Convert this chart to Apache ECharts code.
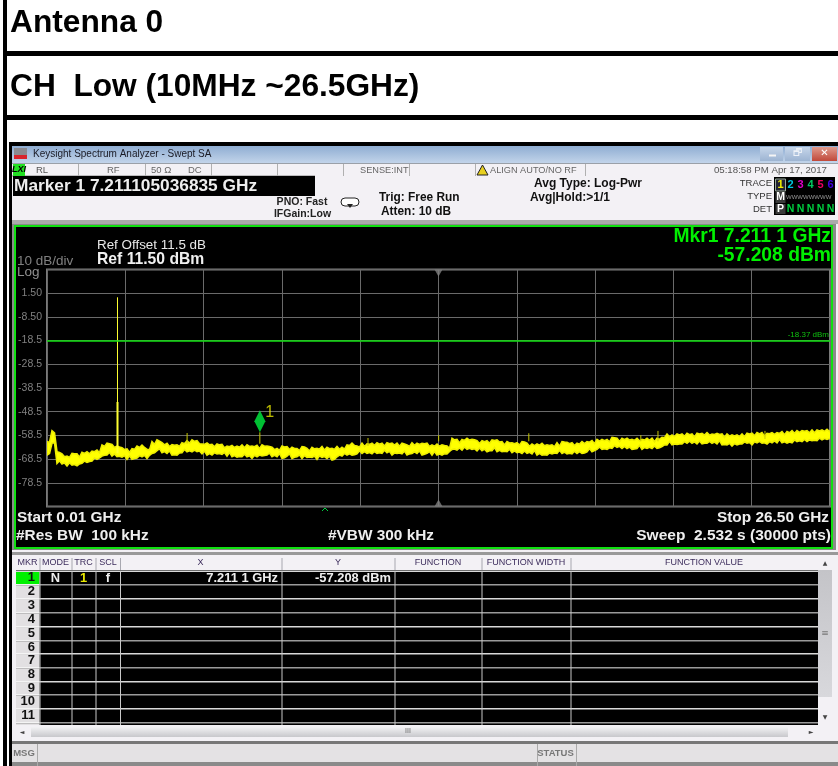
<!DOCTYPE html>
<html>
<head>
<meta charset="utf-8">
<title>Antenna 0 CH Low</title>
<script src="https://cdn.jsdelivr.net/npm/echarts@6/dist/echarts.min.js"></script>
<style>
  html, body { margin: 0; padding: 0; background: #fff; }
  #chart { width: 838px; height: 766px; }
</style>
</head>
<body>
<div id="chart"></div>
<script>
// sweep grid of the trace, one top/bottom pair per sample
const startGHz = 0.01
const stopGHz = 26.5
const sampleStep = 0.16916

// upper edge of the noise band, dBm
const traceTop = [
  -61.1,-56.5,-65.4,-66.3,-67.2,-66.1,-66.3,-65.6,-65.4,-65.1,-64.7,-62.5,-61.8,-62.3,-63.0,-63.7,-64.2,-64.1,-63.0,-62.6,
  -64.4,-61.1,-60.4,-61.6,-61.8,-62.4,-62.5,-61.6,-60.7,-60.4,-60.7,-62.1,-61.7,-62.3,-62.1,-62.3,-63.0,-62.7,-63.0,-62.5,
  -62.5,-63.0,-62.7,-62.5,-63.0,-63.5,-64.0,-63.0,-63.2,-63.5,-64.0,-63.2,-64.0,-63.5,-64.0,-63.2,-63.5,-64.0,-63.2,-63.5,
  -62.5,-61.8,-63.0,-61.8,-62.1,-61.8,-61.6,-61.8,-61.6,-61.8,-61.8,-61.8,-62.5,-61.6,-61.8,-61.8,-61.8,-62.5,-62.2,-62.5,
  -63.0,-59.7,-60.2,-60.2,-59.7,-60.2,-60.7,-60.7,-60.7,-60.4,-60.4,-61.1,-61.1,-61.6,-61.6,-61.1,-61.8,-62.1,-62.1,-61.8,
  -62.5,-62.5,-61.6,-61.1,-61.4,-61.6,-61.8,-61.1,-61.1,-60.7,-60.2,-60.2,-60.2,-59.3,-59.7,-59.7,-59.7,-60.2,-59.7,-60.2,
  -59.7,-59.7,-59.7,-59.3,-57.9,-58.3,-57.9,-57.9,-57.6,-57.9,-57.6,-57.6,-57.3,-57.9,-57.6,-57.9,-57.9,-58.3,-58.3,-57.9,
  -57.6,-57.6,-57.3,-57.3,-57.6,-57.3,-57.3,-56.9,-56.9,-56.5,-56.5,-56.5,-56.5,-56.2,-56.2,-56.2,-55.9,-55.5
]

// lower edge of the noise band, dBm
const traceBottom = [
  -66.8,-61.8,-70.3,-70.6,-71.4,-71.0,-71.3,-70.3,-69.9,-69.3,-68.6,-67.2,-66.8,-67.2,-67.5,-67.7,-68.6,-68.6,-68.0,-67.5,
  -68.2,-66.1,-64.9,-65.8,-66.1,-66.8,-66.8,-65.8,-65.4,-65.4,-65.4,-66.3,-66.8,-66.8,-66.3,-66.5,-67.2,-67.5,-67.7,-67.5,
  -67.5,-68.2,-67.5,-67.2,-66.8,-67.5,-67.5,-68.2,-67.2,-68.2,-67.5,-68.2,-67.8,-67.8,-68.6,-67.8,-68.2,-68.9,-67.5,-67.2,
  -66.8,-66.8,-66.3,-66.1,-66.1,-66.3,-66.1,-66.1,-65.8,-66.8,-66.1,-66.3,-66.8,-66.1,-66.1,-66.8,-66.1,-66.8,-66.8,-66.8,
  -66.3,-64.4,-64.7,-64.7,-64.4,-64.4,-65.0,-65.0,-65.4,-65.0,-65.4,-65.4,-65.4,-65.8,-65.8,-66.1,-66.1,-66.3,-66.8,-66.8,
  -66.8,-66.3,-66.1,-66.1,-66.3,-66.3,-66.1,-66.1,-65.4,-65.4,-64.4,-64.4,-64.4,-64.0,-63.5,-64.0,-64.0,-64.4,-64.0,-64.4,
  -64.0,-64.0,-64.0,-63.2,-62.5,-62.5,-62.3,-62.1,-61.8,-61.8,-62.1,-62.1,-61.8,-61.8,-62.1,-62.5,-62.5,-63.0,-62.5,-62.1,
  -61.8,-62.5,-61.6,-61.8,-62.1,-61.6,-61.6,-61.6,-61.8,-61.6,-61.1,-61.1,-61.1,-60.7,-60.7,-60.4,-60.2,-59.7
]

// how far the noise dips back in between samples, dB
const topDip = [
  0.4,0.9,0.3,1.2,0.6,0.2,1.4,0.5,0.9,0.3,1.1,0.7,0.2,1.3,0.4,0.8,1.5,0.3,0.6,1.0,
  0.2,1.2,0.5,0.9,1.4,0.3,0.7,0.4,1.1,0.6,1.3,0.2,0.8,1.0,0.4,1.5,0.3,0.9,0.5,1.2,
  0.7,0.3,1.4,0.6,0.2,1.0,0.8,0.4,1.3,0.5,0.9,0.2,1.1,0.7,0.3,1.5,0.6,0.4,1.2,0.8,
  0.3,1.0,0.5,1.4,0.2,0.9,0.6,1.2,0.4,0.8,1.3,0.3,0.7,1.1,0.5,0.2,1.4,0.6,0.9,0.3,
  1.0,0.7,1.5,0.4,0.8,0.2,1.2,0.5,1.1,0.3,0.9,1.4,0.6,0.4,1.0,0.2,1.3,0.7,0.5,1.1,
  0.3,0.8,1.5,0.2,0.6,1.2,0.4,0.9,0.3,1.3,0.7,0.5,1.0,0.2,1.4,0.6,0.8,0.4,1.1,0.3,
  0.9,1.5,0.5,0.2,1.2,0.7,0.4,1.0,0.6,1.3,0.3,0.8,1.1,0.2,0.5,1.4,0.9,0.4,0.7,1.2,
  0.3,1.0,0.6,1.5,0.2,0.8,0.4,1.3,0.5,1.1,0.7,0.3,0.9,1.2,0.4,0.6,1.0,0.3
]
const bottomDip = [
  0.7,0.3,1.1,0.5,1.4,0.2,0.8,1.0,0.4,1.3,0.6,0.3,1.2,0.9,0.2,0.7,1.5,0.4,1.0,0.6,
  1.3,0.3,0.8,0.5,1.1,0.2,0.9,1.4,0.4,0.7,0.3,1.2,0.6,1.0,0.2,0.8,1.5,0.5,0.3,1.1,
  0.4,1.3,0.7,0.2,0.9,0.6,1.4,0.3,1.0,0.5,0.8,1.2,0.2,0.6,1.5,0.4,0.9,0.3,0.7,1.1,
  0.5,0.2,1.3,0.8,0.4,1.0,0.3,1.4,0.6,0.9,0.2,1.2,0.5,0.7,1.1,0.3,0.8,1.5,0.4,0.6,
  1.0,0.2,0.9,1.3,0.5,0.3,1.2,0.7,0.4,1.4,0.6,0.2,1.1,0.8,0.3,1.0,0.5,1.5,0.7,0.2,
  0.9,0.4,1.3,0.6,0.3,1.1,0.8,0.2,1.4,0.5,1.0,0.3,0.7,1.2,0.4,0.9,0.6,0.2,1.3,0.8,
  0.5,1.1,0.3,0.7,1.5,0.4,0.2,1.0,0.9,0.6,1.2,0.3,0.8,0.5,1.4,0.2,0.7,1.1,0.4,0.9,
  0.3,1.3,0.6,0.2,1.0,0.8,1.5,0.4,0.5,1.2,0.3,0.9,0.7,0.2,1.1,0.6,0.4,0.8
]

// narrow spikes standing out of the band: freq GHz, top dBm, bottom dBm
const spikeFreq = [2.395, 2.395, 4.75, 7.211, 10.87, 13.26, 16.31, 20.68, 20.1, 24.3]
const spikeTop = [-0.23, -44.4, -57.5, -57.2, -59.6, -58.4, -57.6, -56.6, -58.4, -56.6]
const spikeBottom = [-45, -66, -62, -62, -63, -61, -61, -61, -61, -60]
const spikeWidth = [1, 2, 1, 1, 1, 1, 1, 1, 1, 1]

const gridFreq = [0.01, 2.659, 5.308, 7.957, 10.606, 13.255, 15.904, 18.553, 21.202, 23.851, 26.5]
const gridDb = [11.5, 1.5, -8.5, -18.5, -28.5, -38.5, -48.5, -58.5, -68.5, -78.5, -88.5]
const tickDb = [1.5, -8.5, -18.5, -28.5, -38.5, -48.5, -58.5, -68.5, -78.5]
const tickLabels = ['1.50', '-8.50', '-18.5', '-28.5', '-38.5', '-48.5', '-58.5', '-68.5', '-78.5']
const displayLine = -18.37
const markerFreq = 7.211
const markerDb = -57.208
const centerFreq = 13.255

const tableHeads = ['MKR', 'MODE', 'TRC', 'SCL', 'X', 'Y', 'FUNCTION', 'FUNCTION WIDTH', 'FUNCTION VALUE']
const tableHeadX = [27.5, 55.5, 83.5, 108, 200.5, 338, 438, 526, 704]
const tableCols = [16, 39.5, 71.5, 95.5, 120, 281.5, 394.5, 481.5, 570.5, 818]
const tableRowsY = [570.5, 584, 598, 612, 626, 640, 653, 667, 681, 694, 708, 722]
const tableNums = ['1', '2', '3', '4', '5', '6', '7', '8', '9', '10', '11']

const bandData = traceTop.map((v, i) => [startGHz + i * sampleStep, v, traceBottom[i], topDip[i], bottomDip[i]])

const SANS = '"Liberation Sans", Arial, sans-serif'

function box(x, y, w, h, fill) {
    return { type: 'rect', silent: true, z: -10, shape: { x: x, y: y, width: w, height: h }, style: { fill: fill } }
}
function txt(x, y, s, font, fill, align) {
    return {
        type: 'text', silent: true, z: 20, x: x, y: y,
        style: { text: s, font: font + ' ' + SANS, fill: fill, textAlign: align || 'left', textVerticalAlign: 'middle' }
    }
}
function grad(a, b) {
    return { type: 'linear', x: 0, y: 0, x2: 0, y2: 1, colorStops: [{ offset: 0, color: a }, { offset: 1, color: b }] }
}

let els = []
// document table around the screenshot
els.push(box(3, 0, 4, 766, '#000'))
els.push(box(3, 51, 835, 5, '#000'))
els.push(box(3, 115, 835, 5, '#000'))
els.push(txt(10, 23.5, 'Antenna 0', 'bold 31.7px', '#000'))
els.push(txt(10, 87, 'CH  Low (10MHz ~26.5GHz)', 'bold 31.7px', '#000'))

// window frame
els.push(box(9, 142, 829, 4, '#000'))
els.push(box(9, 142, 3, 624, '#000'))
els.push(box(12, 146, 826, 620, '#f3f1f5'))
els.push(box(12, 146, 826, 17, grad('#8fadd2', '#c2d4ea')))
els.push(box(14, 148, 13, 7, '#8a8a90'))
els.push(box(14, 155, 13, 4, '#d8242c'))
els.push(txt(33, 154.5, 'Keysight Spectrum Analyzer - Swept SA', '10px', '#1a1a24'))
els.push(box(760, 147, 23, 14, grad('#c6d6ea', '#9db4d2')))
els.push(box(785, 147, 25, 14, grad('#c6d6ea', '#9db4d2')))
els.push(box(812, 147, 25, 14, grad('#e09a8c', '#c0483a')))
els.push(box(769, 154.5, 7, 2, '#f5f5f5'))
els.push(txt(797.5, 153.5, '🗗', '10px "DejaVu Sans",', '#eef2f8', 'center'))
els.push(txt(824.5, 153.5, '✕', 'bold 10px "DejaVu Sans",', '#fff', 'center'))

// status row
els.push(box(12, 163, 826, 1, '#9aa0a8'))
els.push(box(12, 175.5, 303, 1, '#888'))
els.push(box(13, 164, 12, 12, '#22e022'))
els.push(txt(19, 170, 'LXI', 'italic bold 9px', '#000', 'center'))
els.push(txt(36, 170, 'RL', '9.5px', '#555'))
els.push(txt(107, 170, 'RF', '9.5px', '#666'))
els.push(txt(151, 170, '50 Ω', '9.5px', '#666'))
els.push(txt(188, 170, 'DC', '9.5px', '#666'))
els.push(txt(360, 170, 'SENSE:INT', '9.2px', '#666'))
els.push(txt(490, 170, 'ALIGN AUTO/NO RF', '9.2px', '#666'))
els.push(txt(827, 170, '05:18:58 PM Apr 17, 2017', '9.7px', '#555', 'right'))
const statusSeps = [78, 145, 211, 277, 343, 409, 475, 585]
statusSeps.forEach(x => els.push(box(x, 164, 1, 12, '#b0b0b0')))
els.push({ type: 'polygon', silent: true, z: 20, shape: { points: [[482.5, 165], [477, 175], [488, 175]] }, style: { fill: '#e8d020', stroke: '#222', lineWidth: 1 } })

// settings area
els.push(box(13, 176, 302, 20, '#000'))
els.push(txt(14, 186.5, 'Marker 1 7.211105036835 GHz', 'bold 17.3px', '#eee'))
els.push(box(12, 220, 826, 4, '#aaa'))
els.push(txt(302, 202, 'PNO: Fast', 'bold 10.5px', '#222', 'center'))
els.push(txt(302.5, 214, 'IFGain:Low', 'bold 10.5px', '#222', 'center'))
els.push({ type: 'rect', silent: true, z: 20, shape: { x: 341, y: 198, width: 18, height: 8, r: 4 }, style: { fill: '#fff', stroke: '#222', lineWidth: 1 } })
els.push({ type: 'polygon', silent: true, z: 21, shape: { points: [[347, 204], [353, 204], [350, 208]] }, style: { fill: '#222' } })
els.push(txt(379, 197.5, 'Trig: Free Run', 'bold 11.9px', '#111'))
els.push(txt(381, 212, 'Atten: 10 dB', 'bold 11.9px', '#111'))
els.push(txt(534, 184, 'Avg Type: Log-Pwr', 'bold 12px', '#111'))
els.push(txt(530, 198, 'Avg|Hold:>1/1', 'bold 12px', '#111'))
els.push(txt(772, 183.5, 'TRACE', '9.5px', '#333', 'right'))
els.push(txt(772, 196.5, 'TYPE', '9.5px', '#333', 'right'))
els.push(txt(772, 209, 'DET', '9.5px', '#333', 'right'))
els.push(box(774, 177, 61, 38, '#000'))
els.push(box(775.5, 179, 10, 12, '#223'))
els.push({ type: 'rect', silent: true, z: 19, shape: { x: 775.5, y: 179, width: 10, height: 12 }, style: { fill: 'none', stroke: '#9a9', lineWidth: 1 } })
const traceNums = ['1', '2', '3', '4', '5', '6']
const traceNumCols = ['#f0f000', '#00c8e0', '#e000c8', '#00c860', '#f00060', '#4000e0']
traceNums.forEach((s, i) => {
    els.push(txt(780.5 + i * 10, 185, s, 'bold 11px', traceNumCols[i], 'center'))
})
els.push(box(775.5, 192, 10, 11, '#3a3a3a'))
els.push(box(775.5, 204, 10, 10, '#3a3a3a'))
els.push(txt(780.5, 197.5, 'M', 'bold 10.5px', '#fff', 'center'))
els.push(txt(780.5, 209, 'P', 'bold 10.5px', '#fff', 'center'))
els.push(txt(786, 197.5, 'WWWWWWWW', '6px', '#999'))
traceNums.slice(1).forEach((s, i) => {
    els.push(txt(790.5 + i * 10, 209, 'N', 'bold 10.5px', '#00d040', 'center'))
})

// spectrum panel
els.push(box(12, 224, 824, 326, '#8a8a8a'))
els.push(box(14, 225, 819, 324, '#10e010'))
els.push(box(16, 227, 815, 320, '#000'))
els.push(txt(97, 245, 'Ref Offset 11.5 dB', '13.4px', '#e8e8e8'))
els.push(txt(97, 260, 'Ref 11.50 dBm', 'bold 15.7px', '#f0f0f0'))
els.push(txt(17, 261.5, '10 dB/div', '13.5px', '#808080'))
els.push(txt(17, 272.5, 'Log', '13.5px', '#909090'))
els.push(txt(831, 236.5, 'Mkr1 7.211 1 GHz', 'bold 19.3px', '#00f000', 'right'))
els.push(txt(831, 256, '-57.208 dBm', 'bold 19.3px', '#00f000', 'right'))
els.push(txt(17, 518, 'Start 0.01 GHz', 'bold 15.4px', '#eee'))
els.push(txt(16, 536, '#Res BW  100 kHz', 'bold 15.4px', '#eee'))
els.push(txt(328, 536, '#VBW 300 kHz', 'bold 15.4px', '#eee'))
els.push(txt(829, 518, 'Stop 26.50 GHz', 'bold 15.4px', '#eee', 'right'))
els.push(txt(831, 536, 'Sweep  2.532 s (30000 pts)', 'bold 15.5px', '#eee', 'right'))
els.push({ type: 'polyline', silent: true, z: 20, shape: { points: [[322, 511], [325, 508], [328, 511]] }, style: { stroke: '#00d040', lineWidth: 1, fill: 'none' } })

// marker table
els.push(box(12, 550, 826, 216, '#f3f1f5'))
els.push(box(12, 552, 826, 3, '#999'))
els.push(box(16, 570, 802, 155, '#000'))
els.push(box(16, 571, 23.5, 154, '#e2e0e2'))
els.push(box(16, 571, 23.5, 13, '#00f000'))
tableRowsY.forEach((y, i) => els.push(box(16, y, 802, 1.4, i % 2 ? '#9a9a9a' : '#d8d8d8')))
tableRowsY.slice(1).forEach(y => els.push(box(16, y, 23.5, 1, '#f4f4f4')))
tableCols.slice(1, 9).forEach(x => {
    els.push(box(x, 558, 1, 12, '#a8a8b0'))
    els.push(box(x, 571, 1, 154, '#c8c8c8'))
})
tableHeads.forEach((s, i) => {
    els.push(txt(tableHeadX[i], 563, s, '9px', '#3c2c5c', 'center'))
})
tableNums.forEach((s, i) => {
    els.push(txt(35, (tableRowsY[i] + tableRowsY[i + 1]) / 2 + 0.5, s, 'bold 13px', '#111', 'right'))
})
els.push(txt(55.5, 578, 'N', 'bold 12.9px', '#eee', 'center'))
els.push(txt(83.5, 578, '1', 'bold 12.9px', '#e8e800', 'center'))
els.push(txt(108, 578, 'f', 'bold 12.9px', '#eee', 'center'))
els.push(txt(278, 578, '7.211 1 GHz', 'bold 12.9px', '#eee', 'right'))
els.push(txt(391, 578, '-57.208 dBm', 'bold 12.9px', '#eee', 'right'))

// scrollbars
els.push(box(818, 570, 14, 127, grad('#c4c4c8', '#d8d8dc')))
els.push(box(31, 727, 757, 10, grad('#f2f2f4', '#c8c8cc')))
els.push(txt(825, 563, '▲', '6px "DejaVu Sans",', '#444', 'center'))
els.push(txt(825, 717, '▼', '6px "DejaVu Sans",', '#444', 'center'))
els.push(txt(22, 732, '◄', '6px "DejaVu Sans",', '#444', 'center'))
els.push(txt(811, 732, '►', '6px "DejaVu Sans",', '#444', 'center'))
els.push(txt(825, 634, '≡', '9px "DejaVu Sans",', '#777', 'center'))
els.push(txt(408, 731.5, 'III', '7px', '#666', 'center'))

// message bar
els.push(box(12, 741, 826, 3, '#777'))
els.push(box(12, 744, 826, 18, '#e4e2e4'))
els.push(box(12, 762, 826, 4, '#8a8a8a'))
els.push(box(37, 744, 1, 22, '#aaa'))
els.push(box(537, 744, 1, 22, '#aaa'))
els.push(box(576, 744, 1, 22, '#aaa'))
els.push(txt(24, 753, 'MSG', 'bold 9.5px', '#777', 'center'))
els.push(txt(555.5, 753, 'STATUS', 'bold 9.5px', '#777', 'center'))

// the trace is one filled polygon: down the top edge, back along the bottom edge
function renderBand(params, api) {
    if (params.dataIndex !== 0) return null
    let pts = []
    bandData.forEach(d => {
        pts.push(api.coord([d[0], d[1]]))
        pts.push(api.coord([d[0] + sampleStep / 2, d[1] - d[3]]))
    })
    for (let i = bandData.length - 1; i >= 0; i--) {
        let d = bandData[i]
        pts.push(api.coord([d[0] + sampleStep / 2, d[2] + d[4]]))
        pts.push(api.coord([d[0], d[2]]))
    }
    return { type: 'polygon', shape: { points: pts }, style: { fill: '#ffff00', stroke: '#eeee00', lineWidth: 1.6, lineJoin: 'miter' } }
}

let series = [{
    name: 'Trace 1',
    type: 'custom',
    renderItem: renderBand,
    data: bandData,
    encode: { x: 0, y: [1, 2] },
    clip: true,
    animation: false,
    silent: true,
    z: 3
}]

spikeFreq.forEach((f, i) => {
    series.push({
        type: 'line',
        data: [[f, spikeTop[i]], [f, spikeBottom[i]]],
        showSymbol: false,
        animation: false,
        z: 3,
        lineStyle: { color: i < 2 ? '#ffff30' : '#c8c800', width: spikeWidth[i] }
    })
})

series.push({
    name: 'Display line',
    type: 'line',
    data: [[startGHz, displayLine], [stopGHz, displayLine]],
    showSymbol: false,
    animation: false,
    z: 4,
    lineStyle: { opacity: 0 },
    markLine: {
        silent: true,
        symbol: 'none',
        animation: false,
        lineStyle: { color: '#10e010', width: 1.5, type: 'solid' },
        data: [{ yAxis: displayLine }],
        label: { show: true, position: 'insideEndTop', formatter: '-18.37 dBm', color: '#10c010', fontSize: 8, fontFamily: SANS, distance: 1 }
    }
})

series.push({
    name: 'Marker 1',
    type: 'scatter',
    data: [[markerFreq, markerDb]],
    symbol: 'diamond',
    symbolSize: [11, 22],
    symbolOffset: [0, -11],
    animation: false,
    z: 5,
    itemStyle: { color: '#00f040' },
    label: { show: true, formatter: '1', position: 'right', offset: [-5, -9], color: '#e8e800', fontSize: 16, fontFamily: SANS }
})

series.push({
    type: 'scatter',
    data: [[centerFreq, 11.5]],
    symbol: 'triangle',
    symbolRotate: 180,
    symbolSize: [8, 7],
    symbolOffset: [0, 3.5],
    animation: false,
    z: 5,
    itemStyle: { color: '#808080' }
})
series.push({
    type: 'scatter',
    data: [[centerFreq, -88.5]],
    symbol: 'triangle',
    symbolSize: [8, 7],
    symbolOffset: [0, -3.5],
    animation: false,
    z: 5,
    itemStyle: { color: '#808080' }
})

let chart = echarts.init(document.getElementById('chart'), null, { renderer: 'canvas' })
chart.setOption({
    animation: false,
    backgroundColor: '#fff',
    tooltip: { show: false },
    grid: { left: 47, top: 269.5, width: 783, height: 237, show: true, borderColor: '#7a7a7a', borderWidth: 2, backgroundColor: 'transparent', containLabel: false },
    xAxis: {
        type: 'value',
        min: startGHz,
        max: stopGHz,
        axisLine: { show: false },
        axisTick: { show: false, customValues: gridFreq },
        axisLabel: { show: false },
        splitLine: { show: true, lineStyle: { color: '#6a6a6a', width: 1 } }
    },
    yAxis: {
        type: 'value',
        min: -88.5,
        max: 11.5,
        axisLine: { show: false },
        axisTick: { show: false, customValues: gridDb },
        axisLabel: {
            show: true,
            customValues: tickDb,
            formatter: v => tickLabels[tickDb.indexOf(v)],
            color: '#808080',
            fontSize: 10.5,
            fontFamily: SANS,
            margin: 5
        },
        splitLine: { show: true, lineStyle: { color: '#6a6a6a', width: 1 } }
    },
    graphic: { elements: els },
    series: series
})
</script>
</body>
</html>
